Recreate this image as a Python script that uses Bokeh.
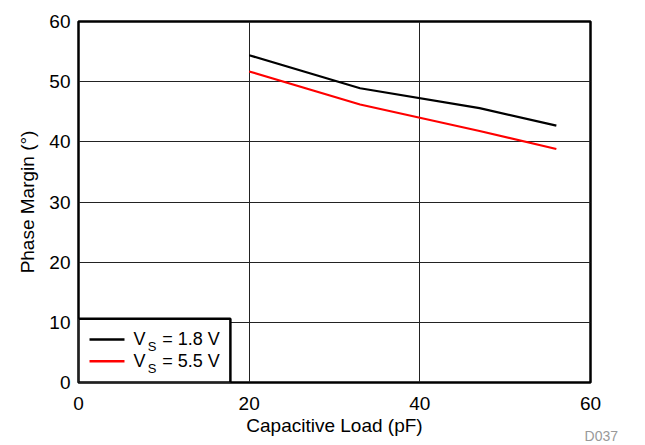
from bokeh.plotting import figure
from bokeh.models import FixedTicker, Label, Range1d
from bokeh.embed import file_html
from bokeh.resources import INLINE

# Data
cap_load = [20, 33, 47, 56]
pm_1v8 = [54.4, 48.9, 45.6, 42.7]
pm_5v5 = [51.7, 46.2, 41.8, 38.8]
x_ticks = [0, 20, 40, 60]
y_ticks = [0, 10, 20, 30, 40, 50, 60]
legend_labels = ["= 1.8 V", "= 5.5 V"]

FONT = "Liberation Sans"

p = figure(output_backend="svg", toolbar_location=None,
           frame_width=512, frame_height=361,
           min_border_left=78, min_border_right=47,
           min_border_top=21, min_border_bottom=63,
           x_range=Range1d(0, 60), y_range=Range1d(0, 60))
p.background_fill_color = "white"
p.border_fill_color = "white"
p.outline_line_color = "black"
p.outline_line_width = 2.5

for ax in (p.xaxis[0], p.yaxis[0]):
    ax.axis_line_color = None
    ax.major_tick_line_color = None
    ax.minor_tick_line_color = None
    ax.major_label_text_font = FONT
    ax.major_label_text_font_size = "19px"
    ax.major_label_text_color = "black"
    ax.axis_label_text_font = FONT
    ax.axis_label_text_font_size = "19px"
    ax.axis_label_text_font_style = "normal"
    ax.axis_label_text_color = "black"
    ax.major_tick_out = 0
    ax.major_tick_in = 0

p.xaxis.ticker = FixedTicker(ticks=x_ticks)
p.yaxis.ticker = FixedTicker(ticks=y_ticks)
p.yaxis.axis_label = "Phase Margin (°)"
p.xaxis.major_label_standoff = 14
p.yaxis.major_label_standoff = 8
p.yaxis.axis_label_standoff = 8

p.xgrid.ticker = FixedTicker(ticks=x_ticks)
p.ygrid.ticker = FixedTicker(ticks=y_ticks)
for g in (p.xgrid[0], p.ygrid[0]):
    g.grid_line_color = "#222222"
    g.grid_line_width = 1
    g.grid_line_alpha = 1.0

p.line(cap_load, pm_1v8, line_color="black", line_width=2.2)
p.line(cap_load, pm_5v5, line_color="#ff0000", line_width=2.2)

# Manual legend (box, sample lines, labels with subscript)
p.quad(left=[0], right=[17.8], bottom=[0], top=[10.6],
       fill_color="white", fill_alpha=1.0,
       line_color="black", line_width=2.5)
leg_y = [7.15, 3.52]
leg_colors = ["black", "#ff0000"]
for yy, col, lab in zip(leg_y, leg_colors, legend_labels):
    p.line([1.29, 5.39], [yy, yy], line_color=col, line_width=2.5)
    p.add_layout(Label(x=6.45, y=yy, text="V", text_font=FONT,
                       text_font_size="18px", text_baseline="middle",
                       text_color="black"))
    p.add_layout(Label(x=8.12, y=yy - 1.2, text="S", text_font=FONT,
                       text_font_size="13px", text_baseline="middle",
                       text_color="black"))
    p.add_layout(Label(x=9.81, y=yy, text=lab, text_font=FONT,
                       text_font_size="18px", text_baseline="middle",
                       text_color="black"))

# X-axis title and figure id, placed in the bottom side panel
p.add_layout(Label(x=30, y=8, y_units="screen",
                   text="Capacitive Load (pF)", text_font=FONT,
                   text_font_size="19px", text_baseline="middle",
                   text_align="center", text_color="black"), "below")
p.add_layout(Label(x=59.3, y=14, y_units="screen",
                   text="D037", text_font=FONT,
                   text_font_size="14px", text_baseline="middle",
                   text_color="#999999"), "below")

open("out.html", "w").write(file_html(p, INLINE))
